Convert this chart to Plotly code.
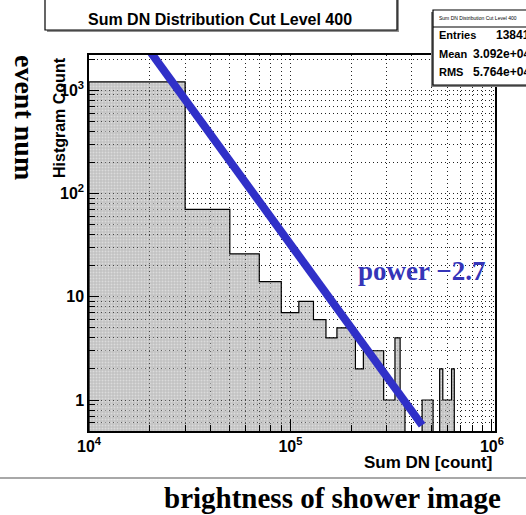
import numpy as np
import plotly.graph_objects as go

# ---------------- data ----------------
bin_low = 1.0e4          # lower edge of first bin
bin_width = 2.0e4        # fixed linear bin width
counts = [1200, 70, 26, 14, 7, 9, 6, 4, 5, 5, 2, 3, 3, 3, 1, 1, 4, 1,
          0, 0, 0, 0, 1, 1, 1, 0, 0, 2, 1, 1, 1, 2]
fit_x = [2.0e4, 4.5e5]   # power law guide line (index -2.7)
fit_y = [2400, 0.57]
x_tickvals = [1e4, 1e5, 1e6]
x_ticktext = ["10<sup>4</sup>", "10<sup>5</sup>", "10<sup>6</sup>"]
y_tickvals = [1, 10, 100, 1000]
y_ticktext = ["1", "10", "10<sup>2</sup>", "10<sup>3</sup>"]
stats_labels = ["Entries", "Mean", "RMS"]
stats_values = ["13841", "3.092e+04", "5.764e+04"]
title_text = "Sum DN Distribution Cut Level 400"

# ---------------- geometry ----------------
W, H = 526, 515
L, R, T, B = 89, 495, 55, 431


def px(x):
    return (x - L) / (R - L)


def py(y):
    return (B - y) / (B - T)


edges = bin_low + bin_width * np.arange(len(counts) + 1)
base = 0.1
xs, ys = [edges[0]], [base]
for i, c in enumerate(counts):
    v = c if c > 0 else base
    xs += [edges[i], edges[i + 1]]
    ys += [v, v]
xs.append(edges[-1])
ys.append(base)

fig = go.Figure()
fig.add_trace(go.Scatter(
    x=xs, y=ys, mode="lines", fill="toself",
    fillcolor="rgba(100,100,100,0.40)",
    fillpattern=dict(shape=".", fgcolor="rgba(255,255,255,0.85)",
                     bgcolor="rgba(100,100,100,0.40)", size=3, solidity=0.35),
    line=dict(color="black", width=1.2), hoverinfo="skip", showlegend=False))

fig.add_trace(go.Scatter(
    x=fit_x, y=fit_y, mode="lines", cliponaxis=False,
    line=dict(color="#3030c8", width=8), hoverinfo="skip", showlegend=False))

grid = dict(showgrid=True, gridcolor="#222222", griddash="1px,3px", gridwidth=1)
fig.update_xaxes(
    type="log", range=[4, 6.015], tickvals=x_tickvals, ticktext=x_ticktext,
    ticks="inside", ticklen=12, tickcolor="black",
    showline=True, linecolor="black", linewidth=1.5, mirror=True,
    tickfont=dict(family="Liberation Sans", size=16, color="black", weight="bold"),
    minor=dict(dtick="D1", ticks="inside", ticklen=6, tickcolor="black", **grid),
    **grid)
fig.update_yaxes(
    type="log", range=[-0.30, 3.34], tickvals=y_tickvals, ticktext=y_ticktext,
    ticks="inside", ticklen=10, tickcolor="black",
    showline=True, linecolor="black", linewidth=1.5, mirror=True,
    tickfont=dict(family="Liberation Sans", size=16, color="black", weight="bold"),
    minor=dict(dtick="D1", ticks="inside", ticklen=6, tickcolor="black", **grid),
    **grid)

shapes = []
ann = []
# title box
shapes.append(dict(type="rect", xref="paper", yref="paper",
                   x0=px(47), x1=px(399), y0=py(32), y1=py(-8),
                   fillcolor="#909090", line=dict(width=0), layer="above"))
shapes.append(dict(type="rect", xref="paper", yref="paper",
                   x0=px(45), x1=px(397), y0=py(30), y1=py(-10),
                   fillcolor="white", line=dict(color="black", width=1.2), layer="above"))
ann.append(dict(text=title_text, xref="paper", yref="paper", x=px(220), y=py(19),
                showarrow=False, xanchor="center", yanchor="middle",
                font=dict(family="Liberation Sans", size=16, color="black", weight="bold")))
# stats box
shapes.append(dict(type="rect", xref="paper", yref="paper",
                   x0=px(431), x1=px(540), y0=py(87), y1=py(12),
                   fillcolor="#808080", line=dict(width=0), layer="above"))
shapes.append(dict(type="rect", xref="paper", yref="paper",
                   x0=px(433), x1=px(540), y0=py(85), y1=py(10),
                   fillcolor="white", line=dict(color="black", width=1.2), layer="above"))
shapes.append(dict(type="line", xref="paper", yref="paper",
                   x0=px(433), x1=px(540), y0=py(27), y1=py(27),
                   line=dict(color="black", width=1.2), layer="above"))
ann.append(dict(text=title_text, xref="paper", yref="paper", x=px(437), y=py(18),
                showarrow=False, xanchor="left", yanchor="middle",
                font=dict(family="Liberation Sans", size=5, color="black")))
for i, (lab, val) in enumerate(zip(stats_labels, stats_values)):
    yy = 35 + 18.5 * i
    ann.append(dict(text=lab, xref="paper", yref="paper", x=px(437), y=py(yy),
                    showarrow=False, xanchor="left", yanchor="middle",
                    font=dict(family="Liberation Sans", size=11, color="black", weight="bold")))
    ann.append(dict(text=val, xref="paper", yref="paper", x=px(532), y=py(yy),
                    showarrow=False, xanchor="right", yanchor="middle",
                    font=dict(family="Liberation Sans", size=12, color="black", weight="bold")))
# axis titles
ann.append(dict(text="Histgram Count", xref="paper", yref="paper", x=px(60), y=py(118),
                showarrow=False, textangle=-90, xanchor="center", yanchor="middle",
                font=dict(family="Liberation Sans", size=16, color="black", weight="bold")))
ann.append(dict(text="event num", xref="paper", yref="paper", x=px(25), y=py(117),
                showarrow=False, textangle=90, xanchor="center", yanchor="middle",
                font=dict(family="Liberation Serif", size=28, color="black", weight="bold")))
ann.append(dict(text="<b>Sum DN [count]</b>", xref="paper", yref="paper", x=px(494), y=py(463),
                showarrow=False, xanchor="right", yanchor="middle",
                font=dict(family="Liberation Sans", size=17, color="black")))
ann.append(dict(text="brightness of shower image", xref="paper", yref="paper",
                x=px(332), y=py(498), showarrow=False, xanchor="center", yanchor="middle",
                font=dict(family="Liberation Serif", size=29, color="black", weight="bold")))
ann.append(dict(text="power \u22122.7", xref="paper", yref="paper", x=px(421), y=py(271),
                showarrow=False, xanchor="center", yanchor="middle",
                font=dict(family="Liberation Serif", size=27, color="#3535b8", weight="bold")))
shapes.append(dict(type="line", xref="paper", yref="paper",
                   x0=px(0), x1=px(526), y0=py(478), y1=py(478),
                   line=dict(color="#a8a8a8", width=2), layer="above"))

fig.update_layout(
    width=W, height=H, margin=dict(l=L, r=W - R, t=T, b=H - B),
    paper_bgcolor="white", plot_bgcolor="white",
    shapes=shapes, annotations=ann, showlegend=False)

fig.write_html("out.html", config={"displayModeBar": False},
               post_script="document.body.style.margin='0';"
                           "document.body.style.overflow='hidden';")
